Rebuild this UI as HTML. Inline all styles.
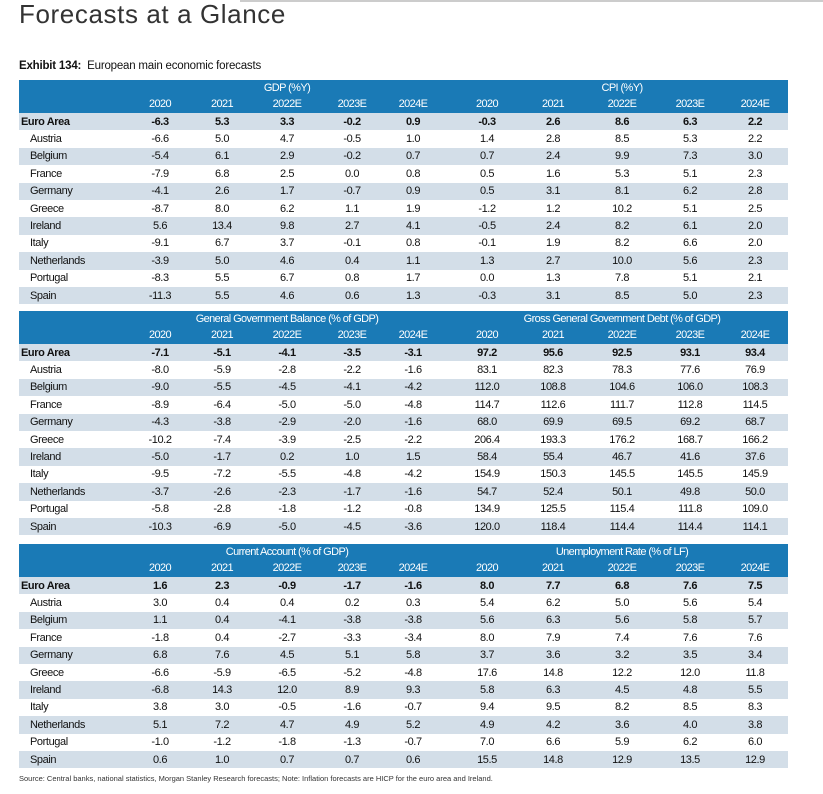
<!DOCTYPE html>
<html><head><meta charset="utf-8">
<style>
body{margin:0;width:823px;height:794px;background:#fff;position:relative;overflow:hidden;font-family:"Liberation Sans",sans-serif;}
.abs{position:absolute;}
.hdr{background:#1a7ab6;color:#fff;}
.cell{position:absolute;font-size:11px;letter-spacing:-0.4px;color:#111;transform:translateX(-50%);white-space:nowrap;}
.lab{position:absolute;font-size:11px;letter-spacing:-0.4px;color:#111;}
.ht{position:absolute;font-size:11px;letter-spacing:-0.6px;color:#fff;transform:translateX(-50%);white-space:nowrap;}
</style></head><body>
<div class="abs" style="left:240px;top:0;width:583px;height:2px;background:#ccc"></div>
<div class="abs" style="left:19px;top:-1px;font-size:26px;font-weight:300;color:#333;letter-spacing:0.6px">Forecasts at a Glance</div>
<div class="abs" style="left:19px;top:60px;font-size:11.5px;color:#111;letter-spacing:-0.2px"><b>Exhibit 134:</b>&nbsp; European main economic forecasts</div>
<div id="root"></div>
<div class="abs" style="left:19px;top:774px;font-size:7.5px;color:#333">Source: Central banks, national statistics, Morgan Stanley Research forecasts; Note: Inflation forecasts are HICP for the euro area and Ireland.</div>
<script>
const countries=["Euro Area","Austria","Belgium","France","Germany","Greece","Ireland","Italy","Netherlands","Portugal","Spain"];
const years=["2020","2021","2022E","2023E","2024E"];
const titles1=["GDP (%Y)","CPI (%Y)"];
const titles2=["General Government Balance (% of GDP)","Gross General Government Debt (% of GDP)"];
const titles3=["Current Account (% of GDP)","Unemployment Rate (% of LF)"];
const gdp=[["-6.3","5.3","3.3","-0.2","0.9"],["-6.6","5.0","4.7","-0.5","1.0"],["-5.4","6.1","2.9","-0.2","0.7"],["-7.9","6.8","2.5","0.0","0.8"],["-4.1","2.6","1.7","-0.7","0.9"],["-8.7","8.0","6.2","1.1","1.9"],["5.6","13.4","9.8","2.7","4.1"],["-9.1","6.7","3.7","-0.1","0.8"],["-3.9","5.0","4.6","0.4","1.1"],["-8.3","5.5","6.7","0.8","1.7"],["-11.3","5.5","4.6","0.6","1.3"]];
const cpi=[["-0.3","2.6","8.6","6.3","2.2"],["1.4","2.8","8.5","5.3","2.2"],["0.7","2.4","9.9","7.3","3.0"],["0.5","1.6","5.3","5.1","2.3"],["0.5","3.1","8.1","6.2","2.8"],["-1.2","1.2","10.2","5.1","2.5"],["-0.5","2.4","8.2","6.1","2.0"],["-0.1","1.9","8.2","6.6","2.0"],["1.3","2.7","10.0","5.6","2.3"],["0.0","1.3","7.8","5.1","2.1"],["-0.3","3.1","8.5","5.0","2.3"]];
const bal=[["-7.1","-5.1","-4.1","-3.5","-3.1"],["-8.0","-5.9","-2.8","-2.2","-1.6"],["-9.0","-5.5","-4.5","-4.1","-4.2"],["-8.9","-6.4","-5.0","-5.0","-4.8"],["-4.3","-3.8","-2.9","-2.0","-1.6"],["-10.2","-7.4","-3.9","-2.5","-2.2"],["-5.0","-1.7","0.2","1.0","1.5"],["-9.5","-7.2","-5.5","-4.8","-4.2"],["-3.7","-2.6","-2.3","-1.7","-1.6"],["-5.8","-2.8","-1.8","-1.2","-0.8"],["-10.3","-6.9","-5.0","-4.5","-3.6"]];
const debt=[["97.2","95.6","92.5","93.1","93.4"],["83.1","82.3","78.3","77.6","76.9"],["112.0","108.8","104.6","106.0","108.3"],["114.7","112.6","111.7","112.8","114.5"],["68.0","69.9","69.5","69.2","68.7"],["206.4","193.3","176.2","168.7","166.2"],["58.4","55.4","46.7","41.6","37.6"],["154.9","150.3","145.5","145.5","145.9"],["54.7","52.4","50.1","49.8","50.0"],["134.9","125.5","115.4","111.8","109.0"],["120.0","118.4","114.4","114.4","114.1"]];
const ca=[["1.6","2.3","-0.9","-1.7","-1.6"],["3.0","0.4","0.4","0.2","0.3"],["1.1","0.4","-4.1","-3.8","-3.8"],["-1.8","0.4","-2.7","-3.3","-3.4"],["6.8","7.6","4.5","5.1","5.8"],["-6.6","-5.9","-6.5","-5.2","-4.8"],["-6.8","14.3","12.0","8.9","9.3"],["3.8","3.0","-0.5","-1.6","-0.7"],["5.1","7.2","4.7","4.9","5.2"],["-1.0","-1.2","-1.8","-1.3","-0.7"],["0.6","1.0","0.7","0.7","0.6"]];
const unemp=[["8.0","7.7","6.8","7.6","7.5"],["5.4","6.2","5.0","5.6","5.4"],["5.6","6.3","5.6","5.8","5.7"],["8.0","7.9","7.4","7.6","7.6"],["3.7","3.6","3.2","3.5","3.4"],["17.6","14.8","12.2","12.0","11.8"],["5.8","6.3","4.5","4.8","5.5"],["9.4","9.5","8.2","8.5","8.3"],["4.9","4.2","3.6","4.0","3.8"],["7.0","6.6","5.9","6.2","6.0"],["15.5","14.8","12.9","13.5","12.9"]];

const root=document.getElementById('root');
const colX=[160,222,287,352,413,487,553,622,690,755];
const L=19,R=788,RH=17.4,HH=33;
function block(top,titles,left,right,name){
  const g=document.createElement('div');
  
  
  root.appendChild(g);
  const h=document.createElement('div');
  h.className='abs hdr';
  
  
  h.style.cssText=`left:${L}px;top:${top}px;width:${R-L}px;height:${HH}px`;
  g.appendChild(h);
  titles.forEach((t,i)=>{
    const d=document.createElement('div');d.className='ht';
    
    
    d.style.left=colX[i*5+2]+'px';d.style.top=(top+2)+'px';d.textContent=t;g.appendChild(d);
  });
  for(let s=0;s<2;s++)years.forEach((y,j)=>{
    const d=document.createElement('div');d.className='ht';
    
    
    d.style.left=colX[s*5+j]+'px';d.style.top=(top+18)+'px';d.textContent=y;g.appendChild(d);
  });
  countries.forEach((c,r)=>{
    const y=top+HH+r*RH;
    const row=document.createElement('div');row.className='abs';
    
    
    row.style.cssText=`left:${L}px;top:${y}px;width:${R-L}px;height:${RH}px;background:${r%2==0?'#d3dee8':'#fff'}`;
    g.appendChild(row);
    const lb=document.createElement('div');lb.className='lab';
    
    
    lb.style.left=(r==0?21:30)+'px';lb.style.top=(y+2.5)+'px';
    if(r==0)lb.style.fontWeight='bold';
    lb.textContent=c;g.appendChild(lb);
    [left,right].forEach((arr,s)=>arr[r].forEach((v,j)=>{
      const d=document.createElement('div');d.className='cell';
      
      
      d.style.left=colX[s*5+j]+'px';d.style.top=(y+2.5)+'px';
      if(r==0)d.style.fontWeight='bold';
      d.textContent=v;g.appendChild(d);
    }));
  });
}
block(80,titles1,gdp,cpi,'gdp-cpi-table');
block(311,titles2,bal,debt,'balance-debt-table');
block(544,titles3,ca,unemp,'account-unemployment-table');
</script>
</body></html>
